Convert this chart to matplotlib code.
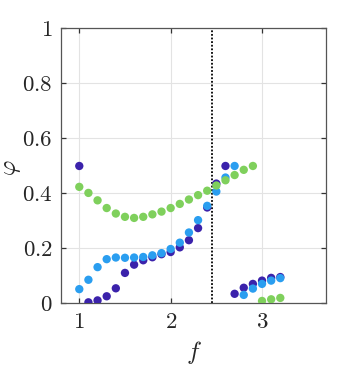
import matplotlib
matplotlib.use("Agg")
import matplotlib.pyplot as plt
import numpy as np

plt.rcParams['mathtext.fontset'] = 'cm'
plt.rcParams['font.family'] = 'serif'
plt.rcParams['font.serif'] = ['DejaVu Serif']

# dark purple series (upper branch then lower branch)
purple_f = [1.0, 1.1, 1.2, 1.3, 1.4, 1.5, 1.6, 1.7, 1.8, 1.9, 2.0, 2.1, 2.2, 2.3, 2.4, 2.5, 2.6,
            2.7, 2.8, 2.9, 3.0, 3.1, 3.2]
purple_phi = [0.498, 0.002, 0.009, 0.024, 0.053, 0.109, 0.139, 0.155, 0.166, 0.177, 0.185, 0.202,
              0.228, 0.272, 0.347, 0.434, 0.498,
              0.033, 0.055, 0.069, 0.081, 0.091, 0.094]

# light blue series
blue_f = [1.0, 1.1, 1.2, 1.3, 1.4, 1.5, 1.6, 1.7, 1.8, 1.9, 2.0, 2.1, 2.2, 2.3, 2.4, 2.5, 2.6, 2.7,
          2.8, 2.9, 3.0, 3.1, 3.2]
blue_phi = [0.050, 0.084, 0.130, 0.159, 0.165, 0.164, 0.165, 0.167, 0.173, 0.181, 0.196, 0.219,
            0.256, 0.301, 0.353, 0.405, 0.456, 0.498,
            0.029, 0.052, 0.069, 0.081, 0.090]

# green series
green_f = [1.0, 1.1, 1.2, 1.3, 1.4, 1.5, 1.6, 1.7, 1.8, 1.9, 2.0, 2.1, 2.2, 2.3, 2.4, 2.5, 2.6,
           2.7, 2.8, 2.9, 3.0, 3.1, 3.2]
green_phi = [0.422, 0.400, 0.373, 0.345, 0.325, 0.313, 0.309, 0.313, 0.322, 0.332, 0.345, 0.360,
             0.376, 0.392, 0.408, 0.427, 0.446, 0.465, 0.484, 0.498,
             0.007, 0.013, 0.018]

f_crit = 2.455

x_ticks = [1, 2, 3]
y_ticks = [0, 0.2, 0.4, 0.6, 0.8, 1]
y_tick_labels = ['$0$', '$0.2$', '$0.4$', '$0.6$', '$0.8$', '$1$']
x_tick_labels = ['$1$', '$2$', '$3$']

fig = plt.figure(figsize=(3.61, 3.73), dpi=100)
ax = fig.add_axes([0.169, 0.188, 0.734, 0.737])

ms = 36
ax.scatter(purple_f, purple_phi, s=ms, color='#3b22ab', edgecolors='none', zorder=3)
ax.scatter(blue_f, blue_phi, s=ms, color='#2a9ef0', edgecolors='none', zorder=3)
ax.scatter(green_f, green_phi, s=ms, color='#7fd05c', edgecolors='none', zorder=3)

ax.axvline(f_crit, color='black', linestyle=(0, (1, 1)), linewidth=1.3, zorder=2)

ax.set_xlim(0.8, 3.7)
ax.set_ylim(0, 1)
ax.set_xticks(x_ticks)
ax.set_xticklabels(x_tick_labels)
ax.set_yticks(y_ticks)
ax.set_yticklabels(y_tick_labels)
ax.grid(True, color='#e3e3e3', linewidth=0.8, zorder=0)
ax.set_axisbelow(True)

for s in ax.spines.values():
    s.set_color('#555555')
    s.set_linewidth(0.9)

ax.tick_params(direction='in', length=3.5, width=0.9, color='#333333',
               top=True, right=True, labelsize=16.5, labelcolor='#262626', pad=6)

ax.set_xlabel('$f$', fontsize=18, color='#262626')
ax.set_ylabel(r'$\varphi$', fontsize=17, color='#262626')
ax.xaxis.set_label_coords(0.5, -0.13)
ax.yaxis.set_label_coords(-0.143, 0.49)

fig.savefig('out.png', dpi=100)
